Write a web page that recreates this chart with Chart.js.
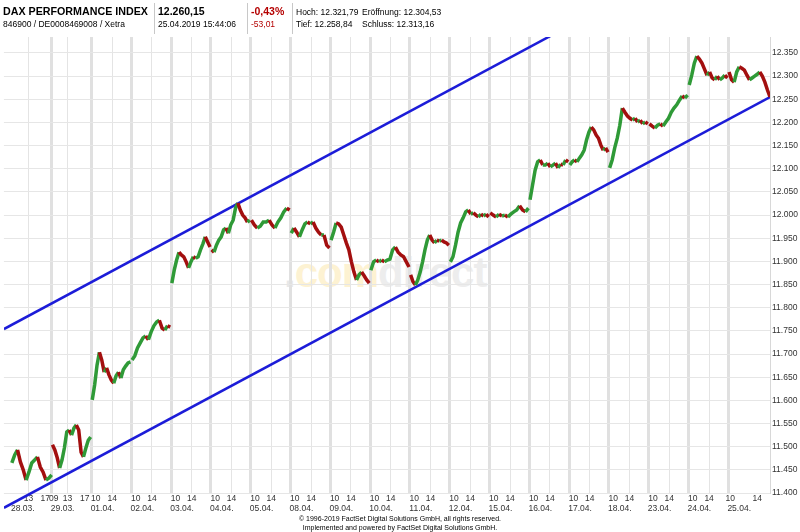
<!DOCTYPE html>
<html>
<head>
<meta charset="utf-8">
<script src="https://cdn.jsdelivr.net/npm/chart.js@4.4.0/dist/chart.umd.min.js"></script>
<style>
  body { margin: 0; background: #fff; font-family: "Liberation Sans", Arial, sans-serif; }
  #wrap { position: relative; width: 800px; height: 532px; overflow: hidden; }
  canvas { position: absolute; left: 0; top: 0; }
  .t { position: absolute; white-space: nowrap; color: #000; line-height: 1; }
  .sep { position: absolute; top: 3px; width: 1px; height: 31px; background: #c8c8c8; }
  .red { color: #b40000; }
  #wm { position: absolute; left: 284px; top: 252px; font-size: 42px; font-weight: bold; line-height: 42px; letter-spacing: -1px; white-space: nowrap; }
  #foot { position: absolute; left: 0; width: 800px; text-align: center; font-size: 7px; line-height: 8.5px; top: 515px; color: #000; }
</style>
</head>
<body>
<div id="wrap">
  <div id="wm"><span style="color:#e8e8e8">.</span><span style="color:#fdf2d2">com</span><span style="color:#ededed">direct</span></div>
  <canvas id="Chart" width="800" height="532"></canvas>

  <div class="t" style="left:3px;top:6px;font-size:10.7px;font-weight:bold">DAX PERFORMANCE INDEX</div>
  <div class="t" style="left:3px;top:20px;font-size:8.5px">846900 / DE0008469008 / Xetra</div>
  <div class="sep" style="left:154px"></div>
  <div class="t" style="left:158px;top:6px;font-size:10.5px;font-weight:bold">12.260,15</div>
  <div class="t" style="left:158px;top:20px;font-size:8.5px">25.04.2019 15:44:06</div>
  <div class="sep" style="left:247px"></div>
  <div class="t red" style="left:251px;top:6px;font-size:10.5px;font-weight:bold">-0,43%</div>
  <div class="t red" style="left:251px;top:20px;font-size:8.5px">-53,01</div>
  <div class="sep" style="left:292px"></div>
  <div class="t" style="left:296px;top:8px;font-size:8.5px">Hoch: 12.321,79</div>
  <div class="t" style="left:362px;top:8px;font-size:8.5px">Eröffnung: 12.304,53</div>
  <div class="t" style="left:296px;top:20px;font-size:8.5px">Tief: 12.258,84</div>
  <div class="t" style="left:362px;top:20px;font-size:8.5px">Schluss: 12.313,16</div>

  <div id="foot">© 1996-2019 FactSet Digital Solutions GmbH, all rights reserved.<br>Implemented and powered by FactSet Digital Solutions GmbH.</div>
</div>

<script>
const dayLabels = ['28.03.', '29.03.', '01.04.', '02.04.', '03.04.', '04.04.', '05.04.', '08.04.', '09.04.', '10.04.',
  '11.04.', '12.04.', '15.04.', '16.04.', '17.04.', '18.04.', '23.04.', '24.04.', '25.04.'];

const hoursFirstDay = ['13', '17'];
const hoursSecondDay = ['09', '13', '17'];
const hoursNormalDay = ['10', '14'];

// intraday prices, one array per trading day
const p2803 = [11465, 11482, 11493, 11467, 11450, 11428, 11445, 11465, 11471, 11478, 11456, 11445, 11428, 11432, 11439];
const p2903 = [11504, 11493, 11476, 11454, 11471, 11497, 11532, 11536, 11525, 11540, 11547, 11536, 11488, 11478, 11497, 11514, 11521];
const p0104 = [11601, 11633, 11676, 11704, 11687, 11661, 11670, 11655, 11644, 11637, 11653, 11661, 11648, 11666, 11674, 11681, 11683];
const p0204 = [11687, 11696, 11713, 11724, 11735, 11739, 11731, 11748, 11761, 11769, 11773, 11756, 11752, 11761, 11758];
const p0304 = [11853, 11881, 11903, 11920, 11914, 11910, 11899, 11886, 11899, 11910, 11907, 11910, 11925, 11938, 11953, 11942, 11931];
const p0404 = [11925, 11920, 11935, 11946, 11953, 11968, 11972, 11961, 11979, 11989, 12015, 12026, 12011, 12000, 11994, 11985, 11989];
const p0504 = [11989, 11979, 11972, 11976, 11985, 11985, 11989, 11979, 11972, 11985, 11994, 12007, 12015, 12011];
const p0804 = [11961, 11972, 11963, 11953, 11968, 11981, 11985, 11981, 11985, 11972, 11963, 11957, 11957, 11935, 11929];
const p0904 = [11946, 11963, 11983, 11981, 11974, 11957, 11940, 11925, 11899, 11877, 11860, 11871, 11877, 11869, 11860, 11853];
const p1004 = [11881, 11899, 11903, 11899, 11903, 11899, 11903, 11905, 11925, 11931, 11920, 11914, 11910, 11899, 11888];
const p1104 = [11871, 11856, 11849, 11860, 11877, 11899, 11925, 11946, 11957, 11946, 11940, 11946, 11944, 11946, 11942, 11940, 11935];
const p1204 = [11899, 11910, 11935, 11963, 11983, 11994, 12007, 12011, 12002, 12005, 12000, 11996, 12002, 11998, 12002, 11996];
const p1504 = [12005, 12000, 11996, 12002, 11998, 12000, 11996, 12002, 12007, 12011, 12020, 12011, 12007, 12015];
const p1604 = [12033, 12065, 12097, 12115, 12119, 12108, 12108, 12112, 12104, 12108, 12112, 12102, 12110, 12108, 12119, 12115];
const p1704 = [12108, 12115, 12119, 12115, 12123, 12130, 12140, 12162, 12179, 12190, 12184, 12173, 12166, 12151, 12140, 12145, 12136];
const p1804 = [12102, 12119, 12145, 12166, 12194, 12231, 12222, 12214, 12209, 12205, 12209, 12201, 12205, 12197, 12201, 12197];
const p2304 = [12197, 12192, 12188, 12194, 12197, 12192, 12201, 12209, 12222, 12231, 12238, 12248, 12257, 12253, 12259];
const p2404 = [12281, 12302, 12328, 12343, 12337, 12328, 12315, 12302, 12309, 12296, 12292, 12300, 12292, 12296, 12302, 12296];
const p2504 = [12309, 12292, 12287, 12309, 12320, 12317, 12313, 12302, 12292, 12296, 12300, 12304, 12309, 12300, 12287, 12270, 12255];

const dayPrices = [p2803, p2903, p0104, p0204, p0304, p0404, p0504, p0804, p0904, p1004,
  p1104, p1204, p1504, p1604, p1704, p1804, p2304, p2404, p2504];

// trend channel (value at left edge, value at right edge)
const upperChannel = [11754, 12641];
const lowerChannel = [11368, 12255];

const yMin = 11400;
const yMax = 12384.5;
const yStep = 50;

const xMin = -0.2, xMax = 19.05;
const last = dayLabels.length - 1;

function daySpan(d) {
  if (d === 0) return [0, 1];
  if (d === last) return [0.02, 1.05];
  return [0.02, 0.98];
}

const priceData = [];
dayPrices.forEach((arr, d) => {
  const [f0, f1] = daySpan(d);
  arr.forEach((v, k) => {
    priceData.push({ x: d + f0 + (f1 - f0) * k / (arr.length - 1), y: v });
  });
  if (d < last) priceData.push({ x: d + 1, y: null });
});

// hour ticks under the plot
const hourTicks = [];
dayLabels.forEach((lbl, d) => {
  let labels = hoursNormalDay, fr = [0.11, 0.52];
  if (d === 0) { labels = hoursFirstDay; fr = [0.42, 0.84]; }
  else if (d === 1) { labels = hoursSecondDay; fr = [0.05, 0.40, 0.83]; }
  else if (d === last) { fr = [0.05, 0.73]; }
  labels.forEach((h, k) => {
    hourTicks.push({ value: d + fr[k], label: h, line: (h === '13' || h === '14') && d !== last });
  });
});

function fmt(v) {
  const s = String(Math.round(v));
  return s.slice(0, s.length - 3) + '.' + s.slice(-3);
}

Chart.defaults.font.family = '"Liberation Sans", Arial, sans-serif';

const green = '#2f9a37';
const red = '#a30f0f';

const ctx = document.getElementById('Chart');
new Chart(ctx, {
  type: 'line',
  data: {
    datasets: [{
      label: 'DAX',
      data: priceData,
      borderWidth: 3.5,
      pointRadius: 0,
      spanGaps: false,
      borderColor: green,
      segment: {
        borderColor: c => c.p1.parsed.y >= c.p0.parsed.y ? green : red
      }
    }, {
      label: 'upper',
      data: [{ x: xMin, y: upperChannel[0] }, { x: xMax, y: upperChannel[1] }],
      borderColor: '#1c1cd8',
      borderWidth: 2.5,
      pointRadius: 0
    }, {
      label: 'lower',
      data: [{ x: xMin, y: lowerChannel[0] }, { x: xMax, y: lowerChannel[1] }],
      borderColor: '#1c1cd8',
      borderWidth: 2.5,
      pointRadius: 0,
      clip: { left: 0, top: 0, right: 0, bottom: 20 }
    }]
  },
  options: {
    responsive: false,
    animation: false,
    layout: { autoPadding: false, padding: { top: 37, left: 0, right: 0, bottom: 17 } },
    plugins: { legend: { display: false }, tooltip: { enabled: false } },
    scales: {
      x: {
        type: 'linear',
        position: 'bottom',
        min: xMin,
        max: xMax,
        weight: 1,
        afterBuildTicks: s => { s.ticks = hourTicks.map(t => ({ value: t.value })); },
        afterFit: s => { s.height = 11; },
        ticks: {
          autoSkip: false, maxRotation: 0, padding: 1, color: '#333', font: { size: 8.5 },
          callback: (v, i) => hourTicks[i].label
        },
        grid: {
          drawTicks: false,
          lineWidth: 1,
          color: c => (hourTicks[c.index] && hourTicks[c.index].line) ? '#e4e4e4' : 'rgba(0,0,0,0)'
        },
        border: { display: false }
      },
      xd: {
        type: 'linear',
        position: 'bottom',
        min: xMin,
        max: xMax,
        weight: 2,
        afterBuildTicks: s => { s.ticks = dayLabels.map((l, i) => ({ value: i })); },
        afterFit: s => { s.height = 11; },
        ticks: {
          autoSkip: false, maxRotation: 0, padding: 0, labelOffset: 11, color: '#333', font: { size: 8.5 },
          callback: (v, i) => dayLabels[i]
        },
        grid: {
          drawTicks: false,
          lineWidth: 3,
          color: c => c.index === 0 ? 'rgba(0,0,0,0)' : '#e0e0e0'
        },
        border: { display: false }
      },
      y: {
        position: 'right',
        min: yMin,
        max: yMax,
        afterFit: s => { s.width = 30; },
        ticks: {
          stepSize: yStep, includeBounds: false, padding: 2, color: '#333', font: { size: 8.5 },
          callback: v => fmt(v)
        },
        grid: { drawTicks: false, color: '#e6e6e6' },
        border: { color: '#d8d8d8' }
      }
    }
  }
});
</script>
</body>
</html>
